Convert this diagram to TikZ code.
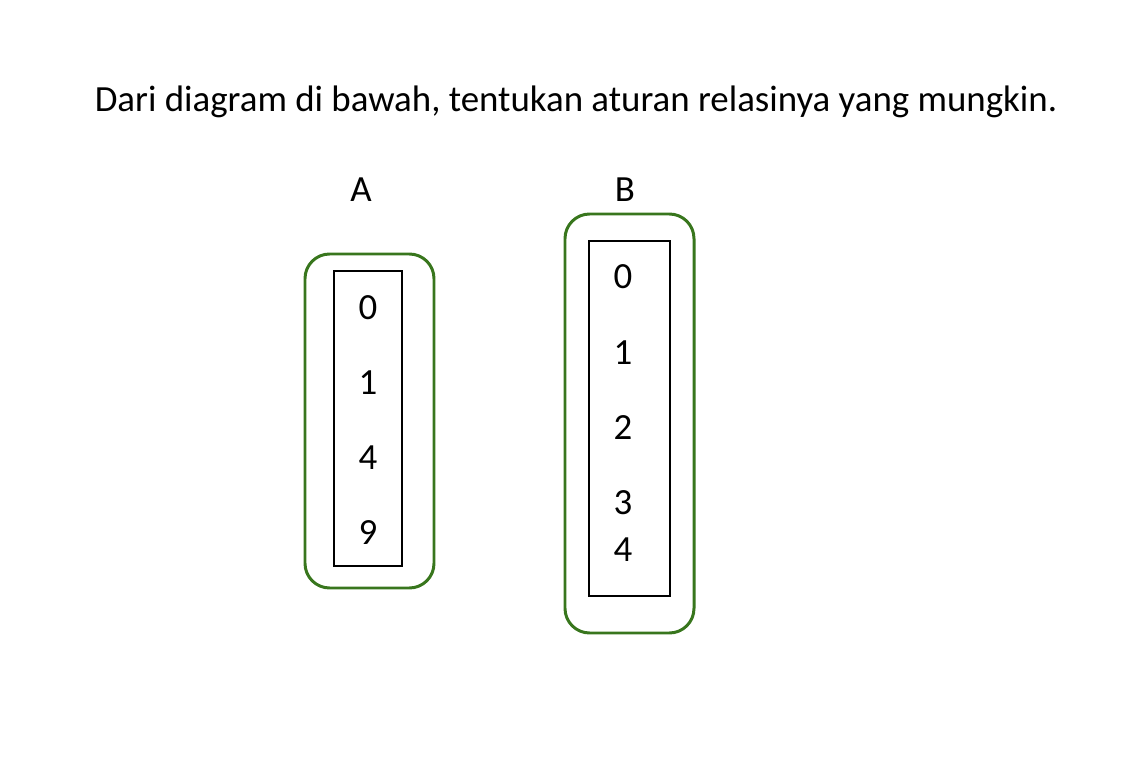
\documentclass[tikz,border=0pt]{standalone}
\usepackage{fontspec}
\setmainfont{Carlito}
\usetikzlibrary{positioning}
\definecolor{setgreen}{RGB}{56,118,29}
\tikzset{
  num/.style={font=\fontsize{21}{25}\selectfont, inner sep=0pt},
  outerset/.style={line width=1.7pt, color=setgreen, rounded corners=14pt},
  innerset/.style={line width=1.1pt, color=black}
}
\begin{document}
\begin{tikzpicture}[x=0.02cm, y=-0.02cm]
\useasboundingbox (0,0) rectangle (1133,764);
\node[num, anchor=base] (title) at (576,111) {Dari diagram di bawah, tentukan aturan relasinya yang mungkin.};
% himpunan A
\node[num] (labelA) at (361,190) {A};
\draw[outerset] (305,254) rectangle (434,588);
\draw[innerset] (334,271) rectangle (402,566);
\node[num] (a0) at (368,308) {0};
\node[num] (a1) at (368,383) {1};
\node[num] (a4) at (368,458) {4};
\node[num] (a9) at (368,533) {9};
% himpunan B
\node[num] (labelB) at (625,190) {B};
\draw[outerset] (565,214) rectangle (694,633);
\draw[innerset] (589,241) rectangle (670,596);
\node[num] (b0) at (623,277) {0};
\node[num] (b1) at (623,353) {1};
\node[num] (b2) at (623,428) {2};
\node[num] (b3) at (623,503) {3};
\node[num] (b4) at (623,550) {4};
\end{tikzpicture}
\end{document}
